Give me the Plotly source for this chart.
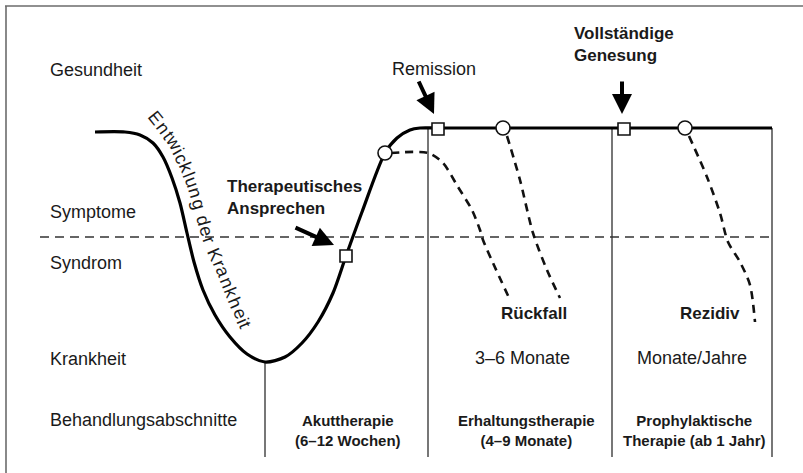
import math
import plotly.graph_objects as go

# ---------------- data (diagram geometry in canvas units) ----------------
main_x = [95, 125, 140, 153, 163, 172, 180, 187, 194, 203, 215, 230, 247, 265,
          285, 302, 318, 333, 346, 362, 385, 397, 410, 420, 438, 503, 624, 685, 772]
main_y = [132, 132, 135, 143, 157, 178, 203, 233, 262, 290, 315, 337, 354, 362,
          357, 343, 322, 293, 256, 212, 153, 138, 130, 128, 128, 128, 128, 128, 128]

square_x = [346, 438, 624]
square_y = [256, 129, 129]
circle_x = [385, 503, 685]
circle_y = [153, 128, 128]

relapse1_x = [391, 428, 443, 458, 472, 480, 483, 493, 510]
relapse1_y = [153, 153, 163, 187, 210, 230, 240, 263, 300]
relapse2_x = [507, 520, 533, 547, 560]
relapse2_y = [136, 180, 233, 270, 298]
recur_x = [689, 707, 720, 728, 740, 750, 755]
recur_y = [136, 177, 213, 242, 262, 285, 322]

threshold_x = [40, 775]
threshold_y = [237, 237]

phase_x = [265, 428, 612, 772]
phase_top = [362, 128, 128, 128]
phase_bottom = 457

left_labels = ["Gesundheit", "Symptome", "Syndrom", "Krankheit", "Behandlungsabschnitte"]
left_label_y = [70, 212, 263, 359, 420]

phase_labels = ["Akuttherapie<br>(6–12 Wochen)",
                "Erhaltungstherapie<br>(4–9 Monate)",
                "Prophylaktische<br>Therapie (ab 1 Jahr)"]
phase_label_x = [348, 526, 694]

duration_labels = ["3–6 Monate", "Monate/Jahre"]
duration_x = [522, 692]
event_labels = ["Rückfall", "Rezidiv"]
event_x = [534, 710]

curve_text = "Entwicklung der Krankheit"
curve_guide = [(151, 113), (163, 128), (175, 145), (185, 165), (193, 185), (199, 205),
               (204, 225), (210, 243), (222, 270), (234, 300), (246, 328)]

# ---------------- figure ----------------
FONT = "Liberation Sans, Arial, Helvetica, sans-serif"
INK = "#1a1a1a"
GRAY = "#6b6b6b"

fig = go.Figure()

# phase separators
for px, pt in zip(phase_x, phase_top):
    fig.add_trace(go.Scatter(x=[px, px], y=[pt, phase_bottom], mode="lines",
                             line=dict(color="#555555", width=1.6), hoverinfo="skip"))

# threshold dashed line
fig.add_trace(go.Scatter(x=threshold_x, y=threshold_y, mode="lines",
                         line=dict(color="#333333", width=1.5, dash="9px,6px"), hoverinfo="skip"))

# relapse / recurrence dashed curves
for dx, dy in [(relapse1_x, relapse1_y), (relapse2_x, relapse2_y), (recur_x, recur_y)]:
    fig.add_trace(go.Scatter(x=dx, y=dy, mode="lines",
                             line=dict(color="#111111", width=2.6, dash="8px,6px",
                                       shape="spline", smoothing=0.8), hoverinfo="skip"))

# main course of illness
fig.add_trace(go.Scatter(x=main_x, y=main_y, mode="lines",
                         line=dict(color="#000000", width=3.2, shape="spline", smoothing=0.8),
                         hoverinfo="skip"))

# markers
fig.add_trace(go.Scatter(x=square_x, y=square_y, mode="markers",
                         marker=dict(symbol="square", size=12, color="white",
                                     line=dict(color="#111111", width=1.6)), hoverinfo="skip"))
fig.add_trace(go.Scatter(x=circle_x, y=circle_y, mode="markers",
                         marker=dict(symbol="circle", size=14, color="white",
                                     line=dict(color="#111111", width=1.6)), hoverinfo="skip"))

ann = []

def text(x, y, s, size, bold=False, xanchor="left", align="left", color=INK):
    ann.append(dict(x=x, y=y, xref="x", yref="y", text=(f"<b>{s}</b>" if bold else s),
                    showarrow=False, xanchor=xanchor, yanchor="middle", align=align,
                    font=dict(family=FONT, size=size, color=color)))

for lab, ly in zip(left_labels, left_label_y):
    text(48, ly, lab, 18)

text(390, 69, "Remission", 18)
text(572, 44, "Vollständige<br>Genesung", 17, bold=True)
text(225, 197, "Therapeutisches<br>Ansprechen", 17, bold=True)

for lab, lx in zip(phase_labels, phase_label_x):
    text(lx, 430, lab, 15, bold=True, xanchor="center", align="center")
for lab, lx in zip(duration_labels, duration_x):
    text(lx, 358, lab, 18, xanchor="center", align="center")
for lab, lx in zip(event_labels, event_x):
    text(lx, 313, lab, 17, bold=True, xanchor="center", align="center")

# arrows
for tip, tail in [((334, 245), (294, 227)), ((434, 114), (418, 80)), ((622, 114), (622, 80))]:
    ann.append(dict(x=tip[0], y=tip[1], ax=tail[0], ay=tail[1], xref="x", yref="y",
                    axref="x", ayref="y", text="", showarrow=True, arrowhead=2,
                    arrowsize=1.0, arrowwidth=4, arrowcolor="#000000", standoff=0))

# curved text along the descending branch
arial_w = {'E': .667, 'n': .556, 't': .278, 'w': .722, 'i': .222, 'c': .5, 'k': .5, 'l': .222,
           'u': .556, 'g': .556, ' ': .278, 'd': .556, 'e': .556, 'r': .333, 'K': .667,
           'a': .556, 'h': .556}
seg_len = [math.dist(curve_guide[i], curve_guide[i + 1]) for i in range(len(curve_guide) - 1)]
total_len = sum(seg_len)
adv = [arial_w.get(ch, .55) for ch in curve_text]
scale = total_len / sum(adv)

def point_at(s):
    for i, L in enumerate(seg_len):
        if s <= L or i == len(seg_len) - 1:
            (x0, y0), (x1, y1) = curve_guide[i], curve_guide[i + 1]
            t = min(max(s / L, 0), 1)
            return x0 + (x1 - x0) * t, y0 + (y1 - y0) * t, math.degrees(math.atan2(y1 - y0, x1 - x0))
        s -= L

def smooth_angle(s):
    a = [point_at(min(max(s + d, 0), total_len))[2] for d in (-8, 0, 8)]
    return sum(a) / 3

pos = 0.0
for ch, w in zip(curve_text, adv):
    c = pos + w * scale / 2
    pos += w * scale
    if ch == " ":
        continue
    px, py, _ = point_at(c)
    ann.append(dict(x=px, y=py, xref="x", yref="y", text=ch, showarrow=False,
                    xanchor="center", yanchor="middle", textangle=smooth_angle(c),
                    font=dict(family=FONT, size=18, color=INK)))

fig.update_layout(
    width=803, height=473, autosize=False,
    margin=dict(l=0, r=0, t=0, b=0),
    paper_bgcolor="white", plot_bgcolor="white",
    showlegend=False,
    xaxis=dict(range=[0, 803], visible=False, fixedrange=True),
    yaxis=dict(range=[473, 0], visible=False, fixedrange=True),
    annotations=ann,
    shapes=[
        dict(type="line", xref="x", yref="y", x0=5, y0=6, x1=803, y1=6,
             line=dict(color=GRAY, width=1.6)),
        dict(type="line", xref="x", yref="y", x0=6, y0=6, x1=6, y1=473,
             line=dict(color=GRAY, width=1.6)),
    ],
)

fig.write_html("out.html", config={"displayModeBar": False},
               post_script="document.body.style.margin='0';document.body.style.overflow='hidden';")
